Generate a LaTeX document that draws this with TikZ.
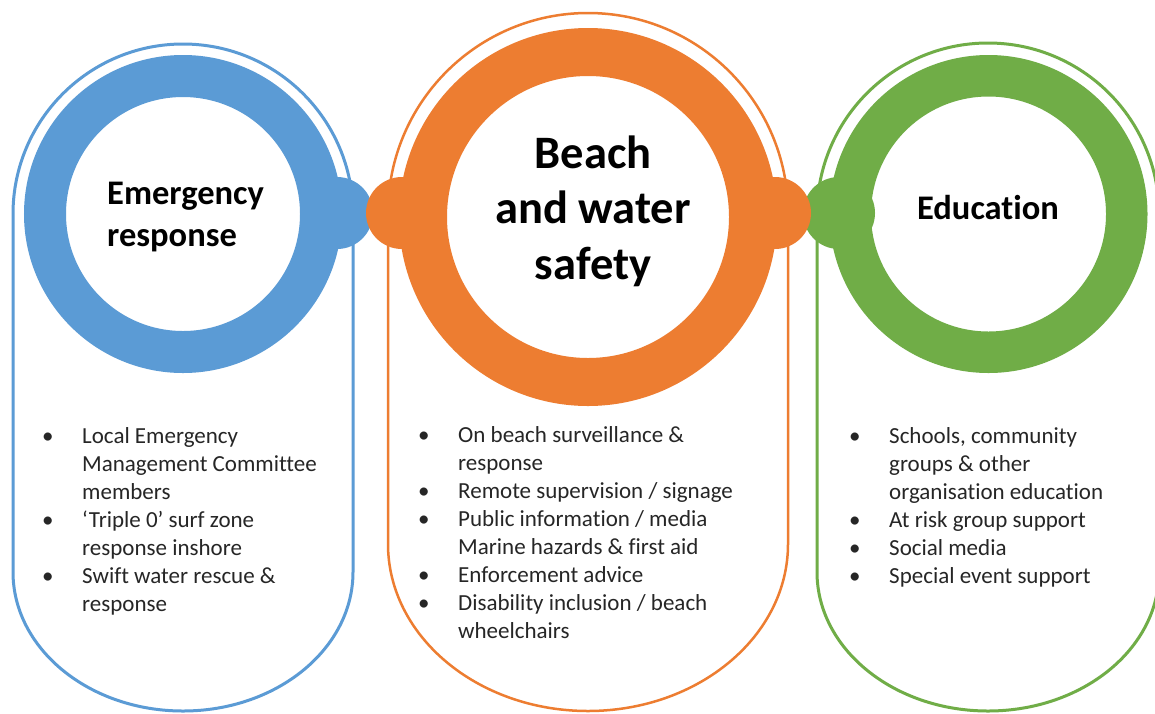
\documentclass[tikz,border=0pt]{standalone}
\usepackage{fontspec}
\setmainfont{Carlito}[Ligatures=NoCommon]
\usetikzlibrary{positioning, calc}

\definecolor{rescueblue}{HTML}{5B9BD5}
\definecolor{safetyorange}{HTML}{ED7D31}
\definecolor{edugreen}{HTML}{70AD47}

\tikzset{
    pill/.style={line width=3pt},
    ring/.style={line width=#1},
    link/.style={fill=#1, draw=none},
    title/.style={font=\fontsize{34.5}{42}\selectfont\bfseries, inner sep=0pt},
    bullets/.style={font=\fontsize{23}{28.1}\selectfont, text=black!85, inner sep=0pt, anchor=base west},
}
\newcommand{\bul}{\makebox[40pt][l]{\textbullet}}
\newcommand{\cont}{\hspace*{40pt}}

\begin{document}
\begin{tikzpicture}[x=1pt, y=-1pt]
    % draw the background
    \fill[white] (0,0) rectangle (1155,713);
    \useasboundingbox (0,0) rectangle (1155,713);
    \clip (0,0) rectangle (1155,713);

    \coordinate (E) at (183,214);
    \coordinate (B) at (588,217);
    \coordinate (D) at (988.5,214);

    % the outlines
    \draw[pill, rescueblue] (13,572) -- (13,214) arc[start angle=180, end angle=360, radius=170]
        -- (353,572) arc[start angle=0, end angle=180, x radius=170, y radius=139] -- cycle;
    \draw[pill, edugreen] (817,572) -- (817,214) arc[start angle=180, end angle=360, radius=171]
        -- (1159,572) arc[start angle=0, end angle=180, x radius=171, y radius=139] -- cycle;
    \draw[pill, line width=2.5pt, safetyorange] (388,544) -- (388,213) arc[start angle=180, end angle=360, radius=200]
        -- (788,544) arc[start angle=0, end angle=180, x radius=200, y radius=167] -- cycle;

    % emergency ring
    \fill[link=rescueblue] ($(E)+(154,-1)$) circle[radius=36];
    \draw[ring=42pt, rescueblue] (E) circle[radius=138];

    % education ring
    \fill[link=edugreen] ($(D)+(-149.5,-1)$) circle[radius=36];
    \draw[ring=41.5pt, edugreen] (D) circle[radius=138.25];

    % safety ring, on top
    \fill[link=safetyorange] ($(B)+(-186,-4)$) circle[radius=36];
    \fill[link=safetyorange] ($(B)+(187,-4)$) circle[radius=36];
    \draw[ring=48pt, safetyorange] (B) circle[radius=165];

    % titles
    \node[title, anchor=base west] (emergency) at (107,204) {\parbox[t]{200pt}{Emergency\\response}};
    \node[title, font=\fontsize{46.5}{55.5}\selectfont\bfseries, anchor=base] (beach) at (593,168)
        {\parbox[t]{300pt}{\centering Beach\\and water\\safety}};
    \node[title, anchor=base] (education) at (988,219) {Education};

    % the lists
    \node[bullets] (emlist) at (42,443) {\parbox[t]{320pt}{\bul Local Emergency\\
        \cont Management Committee\\
        \cont members\\
        \bul ‘Triple 0’ surf zone\\
        \cont response inshore\\
        \bul Swift water rescue \&\\
        \cont response}};
    \node[bullets] (safelist) at (418,442) {\parbox[t]{340pt}{\bul On beach surveillance \&\\
        \cont response\\
        \bul Remote supervision / signage\\
        \bul Public information / media\\
        \cont Marine hazards \& first aid\\
        \bul Enforcement advice\\
        \bul Disability inclusion / beach\\
        \cont wheelchairs}};
    \node[bullets] (edulist) at (849,443) {\parbox[t]{320pt}{\bul Schools, community\\
        \cont groups \& other\\
        \cont organisation education\\
        \bul At risk group support\\
        \bul Social media\\
        \bul Special event support}};
\end{tikzpicture}
\end{document}
